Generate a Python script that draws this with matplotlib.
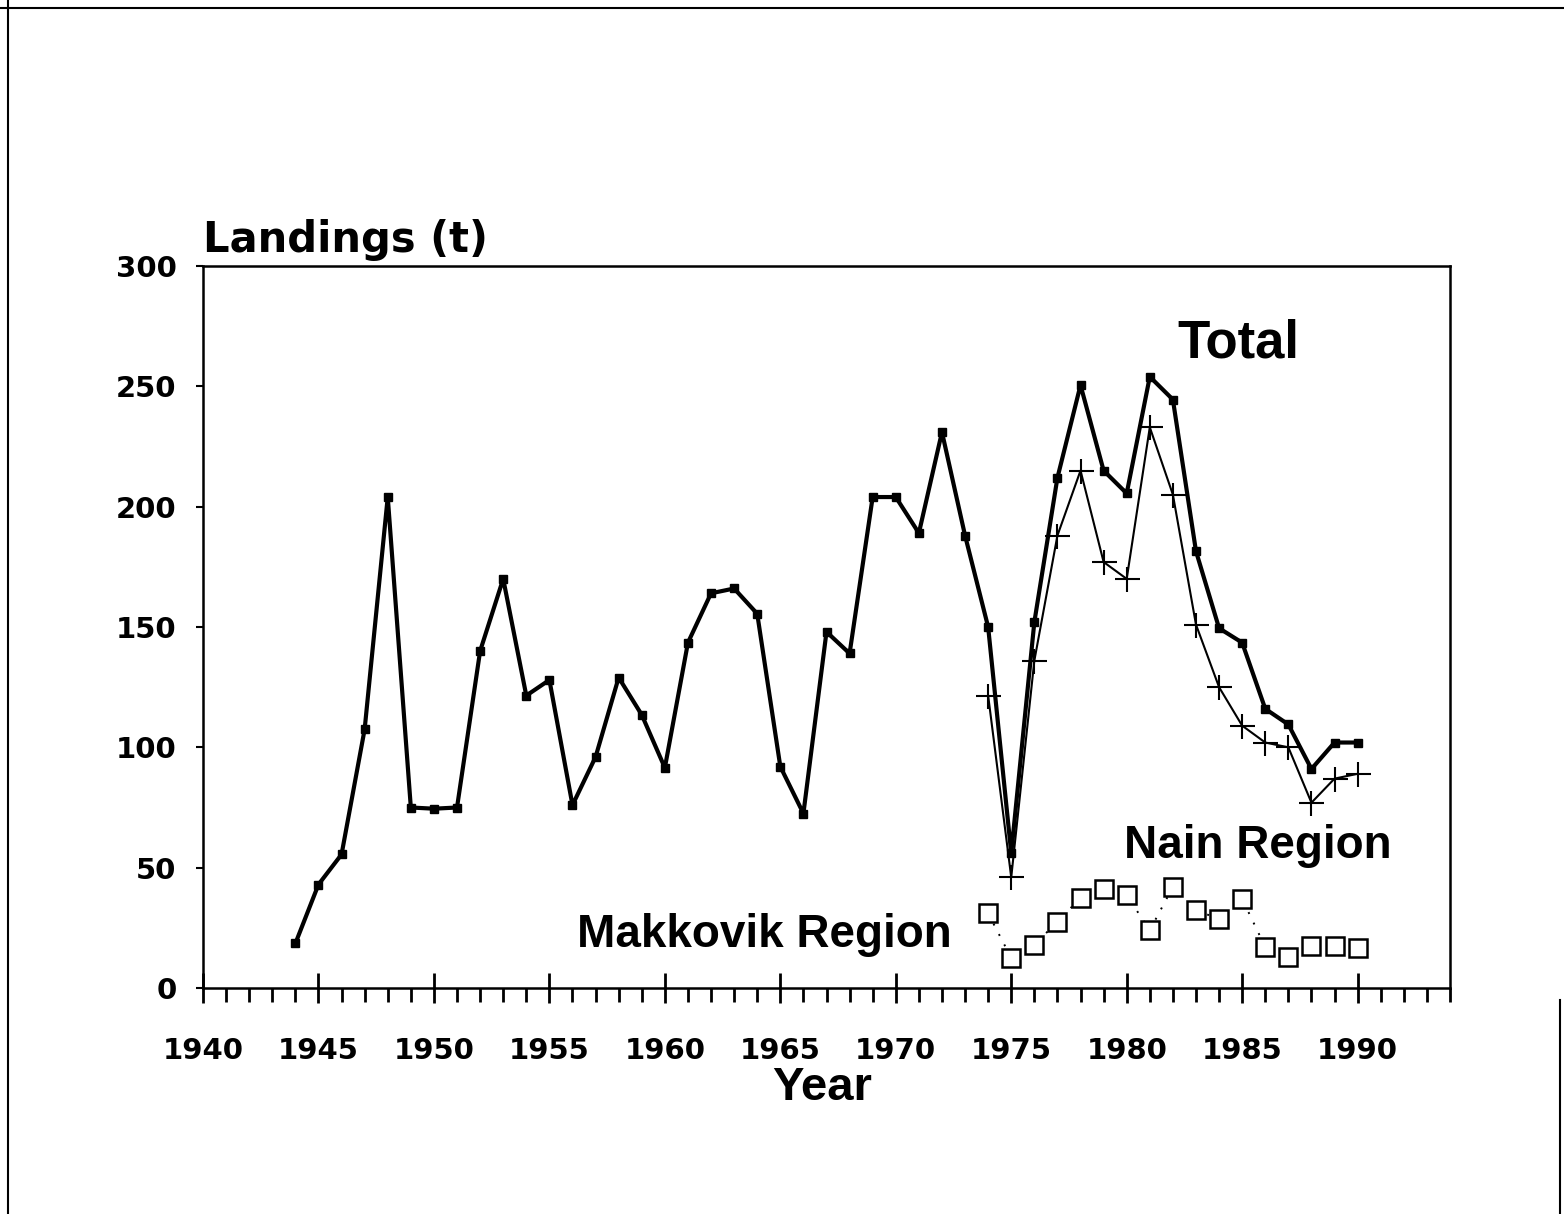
import matplotlib.pyplot as plt
from matplotlib.lines import Line2D
from matplotlib.ticker import MultipleLocator

plt.rcParams['font.family'] = ['Liberation Sans', 'DejaVu Sans']

# total landings 1944-1990
total_years = list(range(1944, 1991))
total = [18.5, 43, 55.5, 107.5, 204, 75, 74.5, 75, 140, 170,
         121.5, 128, 76, 96, 129, 113.5, 91.5, 143.5, 164, 166,
         155.5, 92, 72.5, 148, 139, 204, 204, 189, 231, 188,
         150, 56, 152, 212, 250.5, 215, 205.5, 254, 244.5, 181.5,
         149.5, 143.5, 116, 109.5, 91, 102, 102]

# regional split from 1974
region_years = list(range(1974, 1991))
nain = [121.5, 46, 136, 188, 215, 177, 170, 233, 205, 151,
        125, 109, 102, 100, 77, 87, 89]
makkovik = [31, 12.5, 18, 27.5, 37.5, 41, 38.5, 24, 42, 32.5,
            28.5, 37, 17, 13, 17.5, 17.5, 16.5]

fig = plt.figure(figsize=(15.64, 12.14), dpi=100)
ax = fig.add_axes([203 / 1564, 1 - 988 / 1214, 1247 / 1564, 722 / 1214])

ax.plot(total_years, total, color='black', lw=3, marker='s', ms=6,
        mfc='black', mec='black', zorder=3)
ax.plot(region_years, nain, color='black', lw=1.5, marker='+', ms=18,
        mew=1.5, zorder=3)
ax.plot(region_years, makkovik, color='black', lw=1.4, ls=(0, (1, 5)),
        marker='s', ms=13, mfc='white', mec='black', mew=1.8, zorder=3)

ax.set_xlim(1940, 1994)
ax.set_ylim(0, 300)
ax.xaxis.set_major_locator(MultipleLocator(5))
ax.xaxis.set_minor_locator(MultipleLocator(1))
ax.yaxis.set_major_locator(MultipleLocator(50))
ax.set_xticks(range(1940, 1991, 5))

ax.tick_params(axis='x', which='major', direction='inout', length=22,
               width=2, pad=24, labelsize=21)
ax.tick_params(axis='x', which='minor', direction='out', length=10,
               width=2)
ax.tick_params(axis='y', which='major', direction='out', length=5,
               width=1.5, pad=14, labelsize=21)
for lab in ax.get_xticklabels() + ax.get_yticklabels():
    lab.set_fontweight('bold')
    lab.set_family('DejaVu Sans')

for s in ax.spines.values():
    s.set_linewidth(1.8)

ax.text(1940, 306, 'Landings (t)', fontsize=30, fontweight='bold',
        family='DejaVu Sans', ha='left', va='baseline', clip_on=False)
ax.text(1982.2, 262, 'Total', fontsize=38, fontweight='bold',
        ha='left', va='baseline')
ax.text(1979.9, 54, 'Nain Region', fontsize=33, fontweight='bold',
        ha='left', va='baseline')
ax.text(1956.2, 17, 'Makkovik Region', fontsize=33, fontweight='bold',
        ha='left', va='baseline')
fig.text(822 / 1564, 1 - 1100 / 1214, 'Year', fontsize=34,
         fontweight='bold', ha='center', va='baseline')

# scanned page border
fig.add_artist(Line2D([8 / 1564, 8 / 1564], [0, 1], color='black', lw=1.5,
                      transform=fig.transFigure))
fig.add_artist(Line2D([0, 1], [1 - 8 / 1214, 1 - 8 / 1214], color='black',
                      lw=1.5, transform=fig.transFigure))
fig.add_artist(Line2D([1560 / 1564, 1560 / 1564], [0, 1 - 1000 / 1214],
                      color='black', lw=1.5, transform=fig.transFigure))

fig.savefig('out.png', dpi=100)
